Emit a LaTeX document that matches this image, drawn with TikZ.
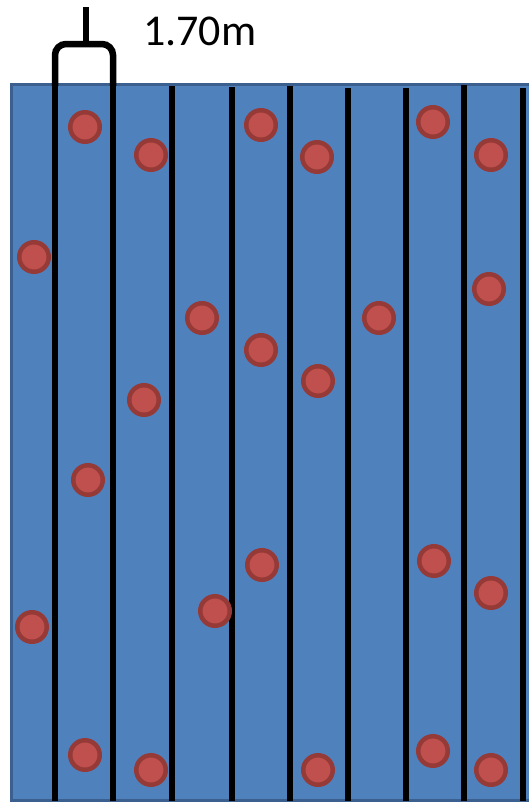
\documentclass[tikz,border=0pt]{standalone}
\usepackage{fontspec}
\setmainfont{Carlito}
\definecolor{fieldblue}{HTML}{4F81BD}
\definecolor{fieldedge}{HTML}{3B6090}
\definecolor{treered}{HTML}{C0504D}
\definecolor{treeedge}{HTML}{963A38}

\begin{document}
\begin{tikzpicture}[x=1pt,y=-1pt,
    tree/.style={circle,fill=treered,draw=treeedge,line width=4.5pt,minimum size=29.5pt,inner sep=0pt},
    rowline/.style={line width=5.5pt}]
      \useasboundingbox (0,0) rectangle (528,803);
      \fill[fieldblue,draw=fieldedge,line width=3pt] (11,84) rectangle (545,800);

      % row lines
      \draw[rowline] (55,84) -- (55,801);
      \draw[rowline] (113,84) -- (113,801);
      \draw[rowline] (172,86) -- (172,801);
      \draw[rowline] (232,87) -- (232,801);
      \draw[rowline] (290,86) -- (290,801);
      \draw[rowline] (348,88) -- (348,801);
      \draw[rowline] (406,88) -- (406,801);
      \draw[rowline] (464,85) -- (464,801);
      \draw[rowline] (523,88) -- (523,801);

      % spacing bracket
      \draw[line width=6.5pt,rounded corners=11pt] (55,86) -- (55,44) -- (113,44) -- (113,86);
      \draw[line width=6.5pt] (86,45) -- (86,7);
      \fill (80,46) -- (86,36) -- (92,46) -- cycle;
      \node[anchor=base west,inner sep=0pt,font=\fontsize{44}{50}\selectfont] (spacing) at (143,45) {1.70m};

      % trees
      \node[tree] (t1) at (85,127) {};
      \node[tree] (t2) at (151,155) {};
      \node[tree] (t3) at (261,125) {};
      \node[tree] (t4) at (317,157) {};
      \node[tree] (t5) at (433,122) {};
      \node[tree] (t6) at (491,155) {};
      \node[tree] (t7) at (34,257) {};
      \node[tree] (t8) at (489,289) {};
      \node[tree] (t9) at (202,318) {};
      \node[tree] (t10) at (379,318) {};
      \node[tree] (t11) at (261,350) {};
      \node[tree] (t12) at (318,381) {};
      \node[tree] (t13) at (144,400) {};
      \node[tree] (t14) at (88,480) {};
      \node[tree] (t15) at (434,561) {};
      \node[tree] (t16) at (262,565) {};
      \node[tree] (t17) at (491,593) {};
      \node[tree] (t18) at (215,611) {};
      \node[tree] (t19) at (32,627) {};
      \node[tree] (t20) at (85,755) {};
      \node[tree] (t21) at (151,770) {};
      \node[tree] (t22) at (318,770) {};
      \node[tree] (t23) at (433,751) {};
      \node[tree] (t24) at (491,770) {};
\end{tikzpicture}
\end{document}
